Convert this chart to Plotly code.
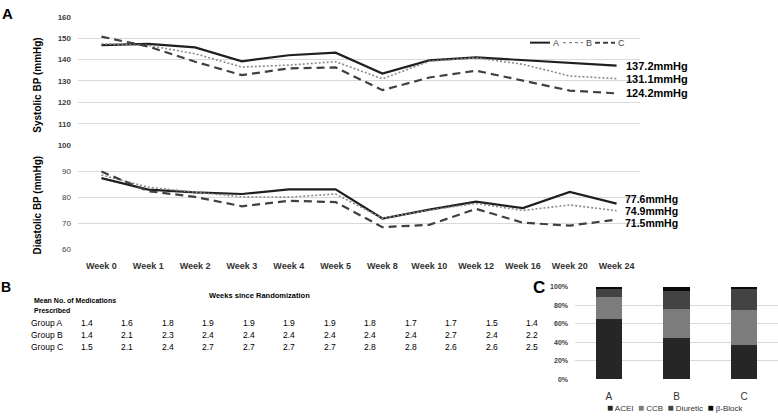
import plotly.graph_objects as go

# ---------------- data ----------------
weeks = ["Week 0", "Week 1", "Week 2", "Week 3", "Week 4", "Week 5",
         "Week 8", "Week 10", "Week 12", "Week 16", "Week 20", "Week 24"]

sys_A = [146.7, 147.3, 145.7, 139.2, 142.0, 143.2, 133.5, 139.6, 141.0, 139.8, 138.6, 137.2]
sys_B = [147.3, 146.6, 142.7, 136.5, 137.4, 139.0, 131.0, 139.2, 140.8, 137.8, 132.3, 131.1]
sys_C = [150.7, 146.1, 139.0, 132.7, 135.9, 136.3, 125.7, 131.6, 134.8, 130.0, 125.5, 124.2]

dia_A = [87.4, 83.0, 81.9, 81.3, 83.1, 83.1, 71.9, 75.3, 78.4, 75.9, 82.1, 77.6]
dia_B = [88.6, 83.9, 82.0, 80.2, 80.1, 81.3, 72.0, 75.1, 77.7, 75.0, 77.1, 74.9]
dia_C = [89.9, 82.4, 80.2, 76.6, 78.7, 78.2, 68.6, 69.5, 75.6, 70.3, 69.2, 71.5]

sys_end_labels = ["137.2mmHg", "131.1mmHg", "124.2mmHg"]
dia_end_labels = ["77.6mmHg", "74.9mmHg", "71.5mmHg"]

groups = ["Group A", "Group B", "Group C"]
meds_A = [1.4, 1.6, 1.8, 1.9, 1.9, 1.9, 1.9, 1.8, 1.7, 1.7, 1.5, 1.4]
meds_B = [1.4, 2.1, 2.3, 2.4, 2.4, 2.4, 2.4, 2.4, 2.4, 2.7, 2.4, 2.2]
meds_C = [1.5, 2.1, 2.4, 2.7, 2.7, 2.7, 2.7, 2.8, 2.8, 2.6, 2.6, 2.5]

bar_cats = ["A", "B", "C"]
drug_names = ["ACEI", "CCB", "Diuretic", "β-Block"]
acei = [65.4, 44.2, 37.1]
ccb = [24.0, 32.1, 37.8]
diuretic = [7.8, 18.8, 23.7]
bblock = [2.8, 4.9, 1.4]

# ---------------- styles ----------------
W, H = 778, 419
FONT = "Liberation Sans, Arial, sans-serif"
GRID = "#d9d9d9"
line_styles = {
    "A": dict(color="#1f1f1f", width=2.2, dash="solid"),
    "B": dict(color="#8a8a8a", width=1.6, dash="2px,2px"),
    "C": dict(color="#404040", width=2.2, dash="8px,5px"),
}
drug_colors = ["#262626", "#7c7c7c", "#434343", "#0a0a0a"]


def px(x):
    return x / W


def py(y):
    return 1 - y / H


def note(x, y, text, size, color="#000", xanchor="center", yanchor="middle", **kw):
    d = dict(x=px(x), y=py(y), xref="paper", yref="paper", text=text, showarrow=False,
             xanchor=xanchor, yanchor=yanchor, font=dict(family=FONT, size=size, color=color))
    d.update(kw)
    return d


fig = go.Figure()

for name, s, d in [("A", sys_A, dia_A), ("B", sys_B, dia_B), ("C", sys_C, dia_C)]:
    fig.add_trace(go.Scatter(x=weeks, y=s, mode="lines", line=line_styles[name],
                             name=name, showlegend=False, xaxis="x", yaxis="y"))
    fig.add_trace(go.Scatter(x=weeks, y=d, mode="lines", line=line_styles[name],
                             name=name, showlegend=False, xaxis="x2", yaxis="y2"))

bar_series = [acei, ccb, diuretic, bblock]
for nm, vals, col in zip(drug_names, bar_series, drug_colors):
    fig.add_trace(go.Bar(x=bar_cats, y=[v / 100 for v in vals], name=nm,
                         marker=dict(color=col, line=dict(width=0)),
                         showlegend=False, xaxis="x3", yaxis="y3"))

annotations = []
shapes = []

# end value labels
for vals, lab in zip([sys_A, sys_B, sys_C], sys_end_labels):
    annotations.append(dict(x=px(624), xref="paper", y=vals[-1], yref="y", text=f"<b>{lab}</b>",
                            showarrow=False, xanchor="left", yanchor="middle",
                            font=dict(family=FONT, size=11, color="#000000")))
dia_shift = [4.5, 0, -3.2]
for vals, lab, sh in zip([dia_A, dia_B, dia_C], dia_end_labels, dia_shift):
    annotations.append(dict(x=px(623), xref="paper", y=vals[-1], yref="y2", text=f"<b>{lab}</b>",
                            showarrow=False, xanchor="left", yanchor="middle", yshift=sh,
                            font=dict(family=FONT, size=10.5, color="#000000")))

# axis titles
annotations.append(note(38, 83.5, "<b>Systolic BP (mmHg)</b>", 10, textangle=-90))
annotations.append(note(38, 206, "<b>Diastolic BP (mmHg)</b>", 10, textangle=-90))

# panel letters
for letter, x, y, sz in [("A", 8, 10, 15), ("B", 6, 289, 14), ("C", 539, 290, 17)]:
    annotations.append(note(x, y, f"<b>{letter}</b>", sz))

# legend for panel A (manual)
leg_y = 39.5
leg_items = [("A", 530, 550), ("B", 563, 583), ("C", 595, 615)]
for name, x0, x1 in leg_items:
    st = line_styles[name]
    shapes.append(dict(type="line", xref="paper", yref="paper", x0=px(x0), x1=px(x1),
                       y0=py(leg_y), y1=py(leg_y),
                       line=dict(color=st["color"], width=st["width"] * 0.9,
                                 dash="dot" if name == "B" else ("5px,3px" if name == "C" else "solid"))))
    annotations.append(note(x1 + 1, leg_y, name, 9, "#444", xanchor="left"))

# table B
annotations.append(note(259, 298, "<b>Weeks since Randomization</b>", 7.5))
annotations.append(note(32, 303, "<b>Mean No. of Medications</b>", 7, xanchor="left"))
annotations.append(note(32, 313, "<b>Prescribed</b>", 7, xanchor="left"))
row_y = [326, 338, 351]
col_x0, col_dx = 87, 40.45
for g, vals, ry in zip(groups, [meds_A, meds_B, meds_C], row_y):
    annotations.append(note(29, ry, g, 8.5, xanchor="left"))
    for i, v in enumerate(vals):
        annotations.append(note(col_x0 + col_dx * i, ry, f"{v:.1f}", 8.5))

# legend for panel C
legend_text = "  ".join(f"<span style='color:{c};font-size:10px'>■</span> {n}"
                        for n, c in zip(drug_names, drug_colors))
annotations.append(note(675, 412, legend_text, 8, "#333"))

tickfont_y = dict(family=FONT, size=8, color="#404040")

fig.update_layout(
    width=W, height=H, autosize=False,
    margin=dict(l=0, r=0, t=0, b=0),
    paper_bgcolor="white", plot_bgcolor="white",
    font=dict(family=FONT),
    barmode="stack", bargap=0.61,
    showlegend=False,
    xaxis=dict(domain=[px(78), px(640)], range=[-0.5, 11.5], showticklabels=False,
               showgrid=False, zeroline=False, anchor="y"),
    yaxis=dict(domain=[py(144.3), py(13)], range=[100, 160], dtick=10,
               showgrid=True, gridcolor=GRID, gridwidth=1, zeroline=False,
               tickfont=tickfont_y, ticks="", ticklabelstandoff=6, anchor="x",
               tickprefix="<b>", ticksuffix="</b>"),
    xaxis2=dict(domain=[px(78), px(640)], range=[-0.5, 11.5], showgrid=False,
                zeroline=False, anchor="y2", ticks="",
                tickfont=dict(family=FONT, size=9, color="#333"),
                tickprefix="<b>", ticksuffix="</b>", ticklabelstandoff=9),
    yaxis2=dict(domain=[py(251), py(144.3)], range=[60, 100],
                tickvals=[60, 70, 80, 90, 100], ticktext=["60", "70", "80", "90", ""],
                showgrid=True, gridcolor=GRID, gridwidth=1, zeroline=False,
                tickfont=tickfont_y, ticks="", ticklabelstandoff=6, anchor="x2",
                tickprefix="<b>", ticksuffix="</b>"),
    xaxis3=dict(domain=[px(575), px(778)], showgrid=False, zeroline=False,
                anchor="y3", ticks="", tickfont=dict(family=FONT, size=10, color="#333"),
                ticklabelstandoff=10),
    yaxis3=dict(domain=[py(383.5), py(289)], range=[0, 1], dtick=0.2,
                tickformat=".0%", showgrid=True, gridcolor=GRID, zeroline=False,
                anchor="x3", ticks="", tickfont=dict(family=FONT, size=7, color="#404040"),
                tickprefix="<b>", ticksuffix="</b>", ticklabelstandoff=6),
    annotations=annotations,
    shapes=shapes,
)

fig.write_html("out.html", config={"displayModeBar": False},
               post_script="document.body.style.margin='0';")
